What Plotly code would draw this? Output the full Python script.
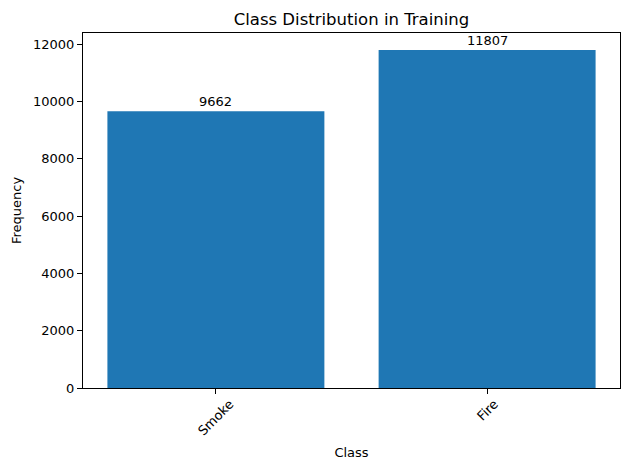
import plotly.graph_objects as go

classes = ["Smoke", "Fire"]
counts = [9662, 11807]
y_ticks = [0, 2000, 4000, 6000, 8000, 10000, 12000]

font = "DejaVu Sans"
fig = go.Figure()
fig.add_trace(go.Bar(x=[0, 1], y=counts, width=0.8, marker_color="#1f77b4",
                     marker_line_width=0, hoverinfo="skip"))

for i, (c, v) in enumerate(zip(classes, counts)):
    fig.add_annotation(x=i, y=v, text=str(v), showarrow=False, yanchor="bottom",
                       xanchor="center", yshift=0, font=dict(family=font, size=13, color="black"))
    fig.add_annotation(x=i, y=0, yref="y domain", text=c, showarrow=False, textangle=-45,
                       yanchor="top", xanchor="center", yshift=-6,
                       font=dict(family=font, size=13, color="black"))

fig.update_layout(
    width=630, height=470,
    margin=dict(l=83, r=10, t=33, b=82),
    plot_bgcolor="white", paper_bgcolor="white",
    showlegend=False,
    title=dict(text="Class Distribution in Training", x=0.5, xref="paper", xanchor="center",
               y=1, yref="paper", yanchor="bottom", pad=dict(b=8),
               font=dict(family=font, size=16.5, color="black")),
    font=dict(family=font, size=13, color="black"),
)
fig.update_xaxes(range=[-0.49, 1.49], tickvals=[0, 1], ticktext=["", ""], ticks="outside",
                 ticklen=5, tickcolor="black", showline=True, linecolor="black", mirror=True,
                 showgrid=False, zeroline=False,
                 title=dict(text="Class", font=dict(family=font, size=13), standoff=52))
fig.update_yaxes(range=[0, 12397], tickvals=y_ticks, ticktext=[str(t) for t in y_ticks],
                 ticks="outside", ticklen=5, tickcolor="black", showline=True, linecolor="black",
                 mirror=True, showgrid=False, zeroline=False,
                 title=dict(text="Frequency", font=dict(family=font, size=13), standoff=8))

fig.write_html("out.html", config={"displayModeBar": False},
               post_script="document.body.style.margin='0';document.body.style.overflow='hidden';")
